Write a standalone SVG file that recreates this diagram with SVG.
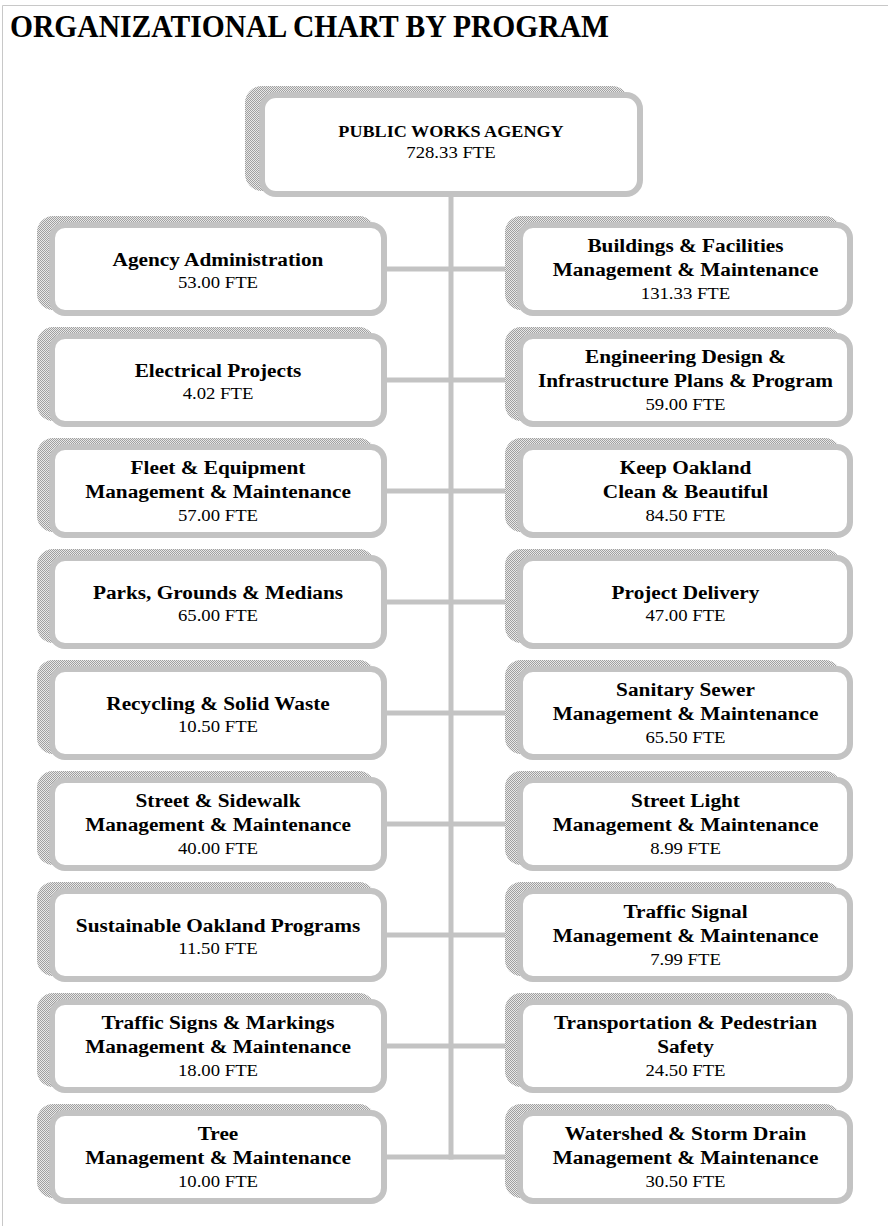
<svg xmlns="http://www.w3.org/2000/svg" width="889" height="1226" viewBox="0 0 889 1226">
<defs>
<pattern id="chk" width="2" height="2" patternUnits="userSpaceOnUse">
<rect width="2" height="2" fill="#e8e8e8"/>
<rect width="1" height="1" fill="#a0a0a0"/>
<rect x="1" y="1" width="1" height="1" fill="#a0a0a0"/>
</pattern>
</defs>
<style>
.sh{fill:url(#chk);}
.bx{fill:#ffffff;stroke:#c3c3c3;stroke-width:6;}
.cn{stroke:#c3c3c3;stroke-width:5;fill:none;}
.n{font-family:"Liberation Serif","Times New Roman",serif;font-weight:bold;font-size:19px;fill:#000;text-anchor:middle;}
.f{font-family:"Liberation Serif","Times New Roman",serif;font-size:17.5px;fill:#000;text-anchor:middle;}
.t{font-family:"Liberation Serif","Times New Roman",serif;font-weight:bold;font-size:32px;fill:#000;}
</style>
<rect width="889" height="1226" fill="#ffffff"/>
<path d="M2.5 1226 V5.5 H888" fill="none" stroke="#c8c8c8" stroke-width="1"/>
<text class="t" x="10" y="37" textLength="599" lengthAdjust="spacingAndGlyphs">ORGANIZATIONAL CHART BY PROGRAM</text>

<g id="connectors">
<line class="cn" x1="451" y1="196" x2="451" y2="1159.5"/>
<line class="cn" x1="386" y1="269" x2="518" y2="269"/>
<line class="cn" x1="386" y1="380" x2="518" y2="380"/>
<line class="cn" x1="386" y1="491" x2="518" y2="491"/>
<line class="cn" x1="386" y1="602" x2="518" y2="602"/>
<line class="cn" x1="386" y1="713" x2="518" y2="713"/>
<line class="cn" x1="386" y1="824" x2="518" y2="824"/>
<line class="cn" x1="386" y1="935" x2="518" y2="935"/>
<line class="cn" x1="386" y1="1046" x2="518" y2="1046"/>
<line class="cn" x1="386" y1="1157" x2="518" y2="1157"/>
</g>

<g id="public-works-agency">
<rect class="sh" x="245" y="86" width="384" height="105" rx="17"/>
<rect class="bx" x="262" y="95" width="378" height="99" rx="14"/>
<text class="n" transform="translate(451 136.5) scale(1.1 1)" style="font-size:16.5px">PUBLIC WORKS AGENGY</text>
<text class="f" transform="translate(451 158) scale(1.07 1)">728.33 FTE</text>
</g>

<g id="agency-administration">
<rect class="sh" x="37" y="216" width="338" height="94" rx="16"/>
<rect class="bx" x="52" y="225" width="332" height="88" rx="13"/>
<text class="n" transform="translate(218 266) scale(1.12 1)">Agency Administration</text>
<text class="f" transform="translate(218 288) scale(1.07 1)">53.00 FTE</text>
</g>
<g id="electrical-projects">
<rect class="sh" x="37" y="327" width="338" height="94" rx="16"/>
<rect class="bx" x="52" y="336" width="332" height="88" rx="13"/>
<text class="n" transform="translate(218 377) scale(1.12 1)">Electrical Projects</text>
<text class="f" transform="translate(218 399) scale(1.07 1)">4.02 FTE</text>
</g>
<g id="fleet-equipment">
<rect class="sh" x="37" y="438" width="338" height="94" rx="16"/>
<rect class="bx" x="52" y="447" width="332" height="88" rx="13"/>
<text class="n" transform="translate(218 474) scale(1.12 1)">Fleet &amp; Equipment</text>
<text class="n" transform="translate(218 497.5) scale(1.12 1)">Management &amp; Maintenance</text>
<text class="f" transform="translate(218 521) scale(1.07 1)">57.00 FTE</text>
</g>
<g id="parks-grounds-medians">
<rect class="sh" x="37" y="549" width="338" height="94" rx="16"/>
<rect class="bx" x="52" y="558" width="332" height="88" rx="13"/>
<text class="n" transform="translate(218 599) scale(1.12 1)">Parks, Grounds &amp; Medians</text>
<text class="f" transform="translate(218 621) scale(1.07 1)">65.00 FTE</text>
</g>
<g id="recycling-solid-waste">
<rect class="sh" x="37" y="660" width="338" height="94" rx="16"/>
<rect class="bx" x="52" y="669" width="332" height="88" rx="13"/>
<text class="n" transform="translate(218 710) scale(1.12 1)">Recycling &amp; Solid Waste</text>
<text class="f" transform="translate(218 732) scale(1.07 1)">10.50 FTE</text>
</g>
<g id="street-sidewalk">
<rect class="sh" x="37" y="771" width="338" height="94" rx="16"/>
<rect class="bx" x="52" y="780" width="332" height="88" rx="13"/>
<text class="n" transform="translate(218 807) scale(1.12 1)">Street &amp; Sidewalk</text>
<text class="n" transform="translate(218 830.5) scale(1.12 1)">Management &amp; Maintenance</text>
<text class="f" transform="translate(218 854) scale(1.07 1)">40.00 FTE</text>
</g>
<g id="sustainable-oakland">
<rect class="sh" x="37" y="882" width="338" height="94" rx="16"/>
<rect class="bx" x="52" y="891" width="332" height="88" rx="13"/>
<text class="n" transform="translate(218 932) scale(1.12 1)">Sustainable Oakland Programs</text>
<text class="f" transform="translate(218 954) scale(1.07 1)">11.50 FTE</text>
</g>
<g id="traffic-signs-markings">
<rect class="sh" x="37" y="993" width="338" height="94" rx="16"/>
<rect class="bx" x="52" y="1002" width="332" height="88" rx="13"/>
<text class="n" transform="translate(218 1029) scale(1.12 1)">Traffic Signs &amp; Markings</text>
<text class="n" transform="translate(218 1052.5) scale(1.12 1)">Management &amp; Maintenance</text>
<text class="f" transform="translate(218 1076) scale(1.07 1)">18.00 FTE</text>
</g>
<g id="tree">
<rect class="sh" x="37" y="1104" width="338" height="94" rx="16"/>
<rect class="bx" x="52" y="1113" width="332" height="88" rx="13"/>
<text class="n" transform="translate(218 1140) scale(1.12 1)">Tree</text>
<text class="n" transform="translate(218 1163.5) scale(1.12 1)">Management &amp; Maintenance</text>
<text class="f" transform="translate(218 1187) scale(1.07 1)">10.00 FTE</text>
</g>

<g id="buildings-facilities">
<rect class="sh" x="505" y="216" width="336" height="94" rx="16"/>
<rect class="bx" x="520" y="225" width="330" height="88" rx="13"/>
<text class="n" transform="translate(685.5 252) scale(1.12 1)">Buildings &amp; Facilities</text>
<text class="n" transform="translate(685.5 275.5) scale(1.12 1)">Management &amp; Maintenance</text>
<text class="f" transform="translate(685.5 299) scale(1.07 1)">131.33 FTE</text>
</g>
<g id="engineering-design">
<rect class="sh" x="505" y="327" width="336" height="94" rx="16"/>
<rect class="bx" x="520" y="336" width="330" height="88" rx="13"/>
<text class="n" transform="translate(685.5 363) scale(1.12 1)">Engineering Design &amp;</text>
<text class="n" transform="translate(685.5 386.5) scale(1.12 1)">Infrastructure Plans &amp; Program</text>
<text class="f" transform="translate(685.5 410) scale(1.07 1)">59.00 FTE</text>
</g>
<g id="keep-oakland-clean">
<rect class="sh" x="505" y="438" width="336" height="94" rx="16"/>
<rect class="bx" x="520" y="447" width="330" height="88" rx="13"/>
<text class="n" transform="translate(685.5 474) scale(1.12 1)">Keep Oakland</text>
<text class="n" transform="translate(685.5 497.5) scale(1.12 1)">Clean &amp; Beautiful</text>
<text class="f" transform="translate(685.5 521) scale(1.07 1)">84.50 FTE</text>
</g>
<g id="project-delivery">
<rect class="sh" x="505" y="549" width="336" height="94" rx="16"/>
<rect class="bx" x="520" y="558" width="330" height="88" rx="13"/>
<text class="n" transform="translate(685.5 599) scale(1.12 1)">Project Delivery</text>
<text class="f" transform="translate(685.5 621) scale(1.07 1)">47.00 FTE</text>
</g>
<g id="sanitary-sewer">
<rect class="sh" x="505" y="660" width="336" height="94" rx="16"/>
<rect class="bx" x="520" y="669" width="330" height="88" rx="13"/>
<text class="n" transform="translate(685.5 696) scale(1.12 1)">Sanitary Sewer</text>
<text class="n" transform="translate(685.5 719.5) scale(1.12 1)">Management &amp; Maintenance</text>
<text class="f" transform="translate(685.5 743) scale(1.07 1)">65.50 FTE</text>
</g>
<g id="street-light">
<rect class="sh" x="505" y="771" width="336" height="94" rx="16"/>
<rect class="bx" x="520" y="780" width="330" height="88" rx="13"/>
<text class="n" transform="translate(685.5 807) scale(1.12 1)">Street Light</text>
<text class="n" transform="translate(685.5 830.5) scale(1.12 1)">Management &amp; Maintenance</text>
<text class="f" transform="translate(685.5 854) scale(1.07 1)">8.99 FTE</text>
</g>
<g id="traffic-signal">
<rect class="sh" x="505" y="882" width="336" height="94" rx="16"/>
<rect class="bx" x="520" y="891" width="330" height="88" rx="13"/>
<text class="n" transform="translate(685.5 918) scale(1.12 1)">Traffic Signal</text>
<text class="n" transform="translate(685.5 941.5) scale(1.12 1)">Management &amp; Maintenance</text>
<text class="f" transform="translate(685.5 965) scale(1.07 1)">7.99 FTE</text>
</g>
<g id="transportation-pedestrian">
<rect class="sh" x="505" y="993" width="336" height="94" rx="16"/>
<rect class="bx" x="520" y="1002" width="330" height="88" rx="13"/>
<text class="n" transform="translate(685.5 1029) scale(1.12 1)">Transportation &amp; Pedestrian</text>
<text class="n" transform="translate(685.5 1052.5) scale(1.12 1)">Safety</text>
<text class="f" transform="translate(685.5 1076) scale(1.07 1)">24.50 FTE</text>
</g>
<g id="watershed-storm-drain">
<rect class="sh" x="505" y="1104" width="336" height="94" rx="16"/>
<rect class="bx" x="520" y="1113" width="330" height="88" rx="13"/>
<text class="n" transform="translate(685.5 1140) scale(1.12 1)">Watershed &amp; Storm Drain</text>
<text class="n" transform="translate(685.5 1163.5) scale(1.12 1)">Management &amp; Maintenance</text>
<text class="f" transform="translate(685.5 1187) scale(1.07 1)">30.50 FTE</text>
</g>
</svg>
